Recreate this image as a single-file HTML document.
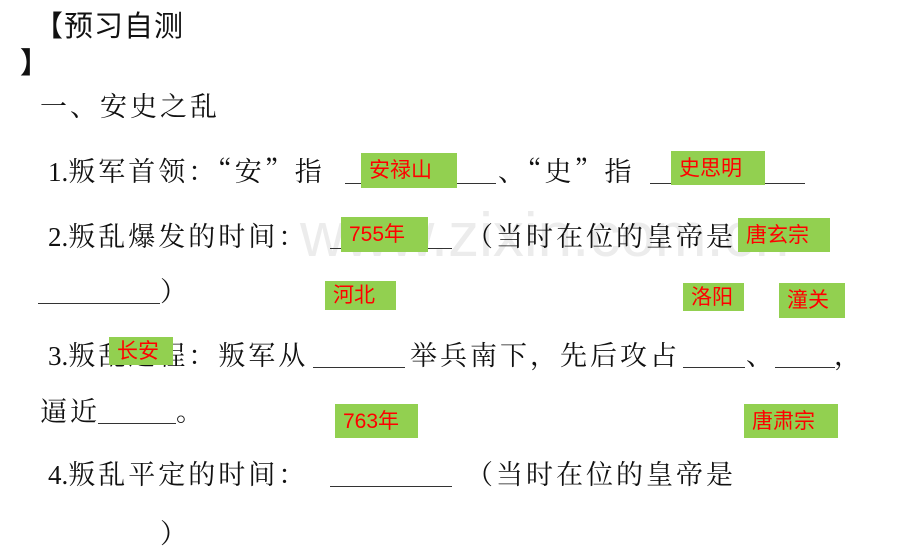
<!DOCTYPE html>
<html><head><meta charset="utf-8"><style>
html,body{margin:0;padding:0;background:#fff;}
body{width:920px;height:518px;position:relative;overflow:hidden;font-family:"Noto Serif CJK SC","Liberation Serif",serif;color:#111;}
.t{position:absolute;font-size:27px;line-height:30px;letter-spacing:3px;white-space:nowrap;}
.n{font-family:"Liberation Serif",serif;letter-spacing:0;}
.u{position:absolute;border-bottom:1.3px solid #333;height:0;}
.g{position:absolute;background:#92d050;color:#ff0000;font-family:"Liberation Sans","Noto Sans CJK SC",sans-serif;font-size:21px;line-height:1;padding-left:8px;box-sizing:border-box;display:flex;align-items:center;}
.wm{position:absolute;font-family:"Liberation Sans",sans-serif;font-size:62px;color:#ececec;white-space:nowrap;}
</style></head><body>
<div class="wm" style="left:300px;top:200px;">www.zixin.com.cn</div>

<div class="t" style="left:34px;top:10px;font-family:'Liberation Sans','Noto Sans CJK SC',sans-serif;font-size:29px;letter-spacing:1px;line-height:34px;">【预习自测</div>
<div class="t" style="left:20px;top:44px;font-family:'Noto Sans CJK SC',sans-serif;font-size:29px;font-weight:bold;line-height:34px;">】</div>

<div class="t" style="left:40px;top:90px;">一、安史之乱</div>

<div class="t" style="left:48px;top:155px;"><span class="n">1.</span>叛军首领：“安”指</div>
<div class="u" style="left:345px;width:151px;top:183px;"></div>
<div class="t" style="left:498px;top:155px;">、“史”指</div>
<div class="u" style="left:650px;width:155px;top:183px;"></div>

<div class="t" style="left:48px;top:220px;"><span class="n">2.</span>叛乱爆发的时间：</div>
<div class="u" style="left:330px;width:122px;top:248px;"></div>
<div class="t" style="left:466px;top:220px;">（当时在位的皇帝是</div>

<div class="u" style="left:38px;width:122px;top:303px;"></div>
<div class="t" style="left:160px;top:275px;">）</div>

<div class="t" style="left:48px;top:339px;"><span class="n">3.</span>叛乱过程：叛军从</div>
<div class="u" style="left:313px;width:92px;top:367px;"></div>
<div class="t" style="left:410px;top:339px;">举兵南下，先后攻占</div>
<div class="u" style="left:683px;width:62px;top:367px;"></div>
<div class="t" style="left:746px;top:339px;">、</div>
<div class="u" style="left:775px;width:60px;top:367px;"></div>
<div class="t" style="left:834px;top:339px;">，</div>

<div class="t" style="left:40px;top:395px;">逼近</div>
<div class="u" style="left:98px;width:78px;top:423px;"></div>
<div class="t" style="left:176px;top:395px;">。</div>

<div class="t" style="left:48px;top:458px;"><span class="n">4.</span>叛乱平定的时间：</div>
<div class="u" style="left:330px;width:122px;top:486px;"></div>
<div class="t" style="left:466px;top:458px;">（当时在位的皇帝是</div>
<div class="t" style="left:160px;top:517px;">）</div>

<div class="g" style="left:361px;top:153px;width:96px;height:35px;">安禄山</div>
<div class="g" style="left:671px;top:151px;width:94px;height:34px;">史思明</div>
<div class="g" style="left:341px;top:217px;width:87px;height:35px;">755年</div>
<div class="g" style="left:738px;top:218px;width:92px;height:34px;">唐玄宗</div>
<div class="g" style="left:325px;top:281px;width:71px;height:29px;">河北</div>
<div class="g" style="left:683px;top:283px;width:61px;height:28px;">洛阳</div>
<div class="g" style="left:779px;top:283px;width:66px;height:35px;">潼关</div>
<div class="g" style="left:109px;top:337px;width:64px;height:28px;">长安</div>
<div class="g" style="left:335px;top:404px;width:83px;height:34px;">763年</div>
<div class="g" style="left:744px;top:404px;width:94px;height:34px;">唐肃宗</div>
</body></html>
